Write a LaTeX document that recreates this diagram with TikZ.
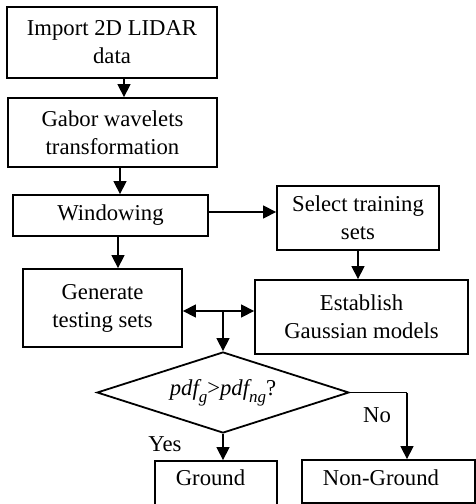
\documentclass[tikz,border=0pt]{standalone}
\usepackage{fontspec}
\setmainfont{Liberation Serif}
\usetikzlibrary{shapes.geometric,arrows.meta}
\newcommand{\subtxt}[1]{\raisebox{-7pt}{\fontsize{17}{17}\selectfont\itshape #1}}
\begin{document}
\begin{tikzpicture}[x=1pt,y=-1pt,
  box/.style={draw,line width=1.8pt,inner sep=0pt,align=center,font=\fontsize{22.7}{28}\selectfont},
  lbl/.style={inner sep=0pt,font=\fontsize{22.7}{28}\selectfont},
  arr/.style={line width=1.3pt,-{Triangle[length=13pt,width=13pt]}},
  arrb/.style={line width=1.3pt,{Triangle[length=13pt,width=13pt]}-{Triangle[length=13pt,width=13pt]}}]
\useasboundingbox (0,0) rectangle (476,504);
% boxes
\node[box,minimum width=210pt,minimum height=71pt] (imp) at (112,42.5) {Import 2D LIDAR\\data};
\node[box,minimum width=209pt,minimum height=69pt] (gab) at (112.5,132.5) {Gabor wavelets\\transformation};
\node[box,minimum width=195pt,minimum height=41pt] (win) at (110.5,215.5) {Windowing};
\node[box,minimum width=162pt,minimum height=64pt] (sel) at (358,218) {Select training\\sets};
\node[box,minimum width=213pt,minimum height=74pt] (est) at (361.5,317) {Establish\\Gaussian models};
\node[box,minimum width=159pt,minimum height=78pt] (gen) at (102.5,308) {Generate\\testing sets};
\node[draw,line width=1.8pt,diamond,shape aspect=3,inner sep=0pt,minimum width=252pt,minimum height=81pt,font=\fontsize{22.7}{28}\selectfont] (dia) at (223,392.5)
  {{\itshape pdf}\subtxt{g}>{\itshape pdf}\subtxt{ng}?};
\node[draw,line width=1.8pt,minimum width=122pt,minimum height=50pt,inner sep=0pt] (gnd) at (216,486) {};
\node[lbl] (gndtxt) at (210.5,478) {Ground};
\node[draw,line width=1.8pt,minimum width=173pt,minimum height=43pt,inner sep=0pt] (ngd) at (388.5,481.5) {};
\node[lbl] (ngdtxt) at (381,478) {Non-Ground};
% labels
\node[lbl] (yes) at (165,444) {Yes};
\node[lbl] (no) at (377,415) {No};
% helper coordinates
\coordinate (x1) at (124,0);
\coordinate (x2) at (120,0);
\coordinate (x3) at (118,0);
\coordinate (x4) at (358,0);
\coordinate (jn) at (223,311);
\coordinate (bend) at (407,392.5);
% connectors
\draw[arr] (imp.south -| x1) -- (gab.north -| x1);
\draw[arr] (gab.south -| x2) -- (win.north -| x2);
\draw[arr] (win.east |- 0,212) -- (sel.west |- 0,212);
\draw[arr] (win.south -| x3) -- (gen.north -| x3);
\draw[arr] (sel.south -| x4) -- (est.north -| x4);
\draw[arrb] (gen.east |- jn) -- (est.west |- jn);
\draw[arr] (jn) -- (dia.north);
\draw[arr] (dia.south) -- (gnd.north -| dia.south);
\draw[line width=1.3pt] (dia.east) -- (bend);
\draw[arr] (bend) -- (ngd.north -| bend);
\end{tikzpicture}
\end{document}
